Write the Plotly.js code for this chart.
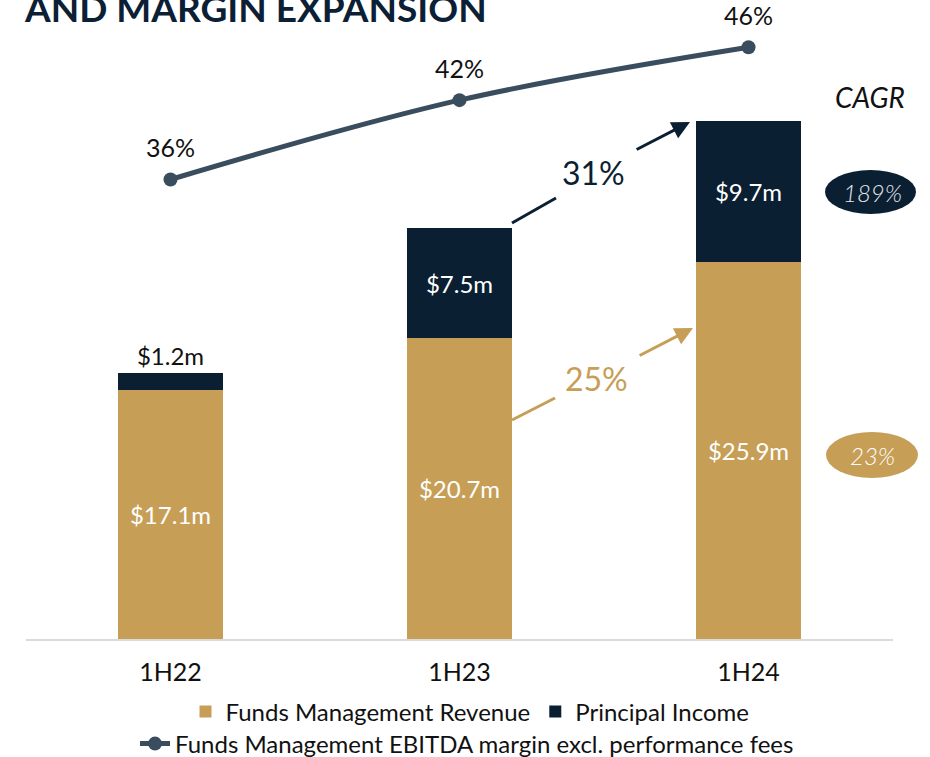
<!DOCTYPE html>
<html>
<head>
<meta charset="utf-8">
<script src="https://cdn.plot.ly/plotly-3.0.1.min.js"></script>
<style>html,body{margin:0;padding:0;background:#fff;}#chart{width:930px;height:757px;}</style>
</head>
<body>
<div id="chart"></div>
<script>
// ---- data ----
const periods = ["1H22", "1H23", "1H24"];
const fundsMgmtRevenue = [17.1, 20.7, 25.9];
const principalIncome = [1.2, 7.5, 9.7];
const ebitdaMargin = [36, 42, 46];
const fundsLabels = ["$17.1m", "$20.7m", "$25.9m"];
const principalLabels = ["$1.2m", "$7.5m", "$9.7m"];
const marginLabels = ["36%", "42%", "46%"];
const cagrPrincipal = "189%";
const cagrFunds = "23%";
const growthPrincipal = "31%";
const growthFunds = "25%";

// ---- styling ----
const TAN = "#C69E56", NAVY = "#0B1F33", SLATE = "#3A4D5E";
const FONT = "Lato, 'Open Sans', sans-serif";
const W = 930, H = 757;
const M = {l: 26, r: 37, t: 10, b: 118};
const plotW = W - M.l - M.r, plotH = H - M.t - M.b;
const YMAX = 43.2;
const Y2 = [1.24, 48.82];

// pixel helpers for decorations
const px2x = px => -0.5 + (px - M.l) / (plotW / 3);
const py2y = py => (H - M.b - py) / plotH * YMAX;
const pxp = px => (px - M.l) / plotW;
const pyp = py => (H - M.b - py) / plotH;
const cy = py => 1 - py / H;

const traces = [
  {
    type: "bar", name: "Funds Management Revenue",
    x: periods, y: fundsMgmtRevenue,
    marker: {color: TAN}, width: 0.36,
    text: fundsLabels, textposition: "inside", insidetextanchor: "middle",
    textfont: {family: FONT, size: 24, color: "#ffffff"},
    constraintext: "none", hoverinfo: "skip", legend: "legend"
  },
  {
    type: "bar", name: "Principal Income",
    x: periods, y: principalIncome,
    marker: {color: NAVY}, width: 0.36,
    text: principalLabels, textposition: ["outside", "inside", "inside"], insidetextanchor: "middle",
    textfont: {family: FONT, size: 24, color: ["#111111", "#ffffff", "#ffffff"]},
    outsidetextfont: {family: FONT, size: 24, color: "#111111"},
    cliponaxis: false, constraintext: "none", hoverinfo: "skip", legend: "legend"
  },
  {
    type: "scatter", mode: "lines+markers",
    name: "Funds Management EBITDA margin excl. performance fees",
    x: periods, y: ebitdaMargin, yaxis: "y2",
    line: {color: SLATE, width: 5, shape: "spline"},
    marker: {color: SLATE, size: 14},
    hoverinfo: "skip", legend: "legend2"
  }
];

const annotations = [
  {xref: "paper", yref: "paper", x: pxp(22), y: pyp(7), xanchor: "left", yanchor: "middle",
   text: "<b>AND MARGIN EXPANSION</b>", showarrow: false,
   font: {family: FONT, size: 37, color: "#0B2035"}},
  {xref: "paper", yref: "paper", x: pxp(870), y: pyp(97), xanchor: "center", yanchor: "middle",
   text: "<i>CAGR</i>", showarrow: false, font: {family: FONT, size: 28, color: "#111111"}},
  {xref: "paper", yref: "paper", x: pxp(872), y: pyp(192), xanchor: "center", yanchor: "middle",
   text: "<i>" + cagrPrincipal + "</i>", showarrow: false, font: {family: FONT, size: 24, color: "#E4E6E8", weight: 300}},
  {xref: "paper", yref: "paper", x: pxp(872), y: pyp(455), xanchor: "center", yanchor: "middle",
   text: "<i>" + cagrFunds + "</i>", showarrow: false, font: {family: FONT, size: 24, color: "#ffffff", weight: 300}},
  {xref: "x", yref: "y", x: px2x(690), y: py2y(122), axref: "x", ayref: "y", ax: px2x(593), ay: py2y(172),
   text: growthPrincipal, showarrow: true, arrowhead: 2, arrowsize: 1.2, arrowwidth: 3, arrowcolor: NAVY,
   startstandoff: 12, font: {family: FONT, size: 32, color: NAVY}},
  {xref: "x", yref: "y", x: px2x(693), y: py2y(328), axref: "x", ayref: "y", ax: px2x(596), ay: py2y(378),
   text: growthFunds, showarrow: true, arrowhead: 2, arrowsize: 1.2, arrowwidth: 3, arrowcolor: TAN,
   startstandoff: 12, font: {family: FONT, size: 32, color: TAN}}
];
periods.forEach((p, i) => {
  annotations.push({xref: "x", yref: "y2", x: p, y: ebitdaMargin[i], yshift: 32,
    text: marginLabels[i], showarrow: false, font: {family: FONT, size: 25, color: "#111111"}});
});

const shapes = [
  {type: "circle", xref: "paper", yref: "paper", x0: pxp(825), x1: pxp(916), y0: pyp(170), y1: pyp(214),
   fillcolor: NAVY, line: {width: 0}, layer: "below"},
  {type: "circle", xref: "paper", yref: "paper", x0: pxp(826), x1: pxp(918), y0: pyp(432), y1: pyp(478),
   fillcolor: TAN, line: {width: 0}, layer: "below"},
  {type: "line", xref: "x", yref: "y", x0: px2x(512), y0: py2y(223), x1: px2x(556), y1: py2y(198),
   line: {color: NAVY, width: 3}},
  {type: "line", xref: "x", yref: "y", x0: px2x(512), y0: py2y(420), x1: px2x(555), y1: py2y(398),
   line: {color: TAN, width: 3}}
];

const layout = {
  width: W, height: H, margin: M,
  paper_bgcolor: "#ffffff", plot_bgcolor: "#ffffff",
  barmode: "stack", showlegend: true,
  font: {family: FONT, color: "#111111"},
  xaxis: {type: "category", range: [-0.5, 2.5], showline: true, linecolor: "#DADADA", linewidth: 2,
          ticks: "", showgrid: false, zeroline: false, fixedrange: true, ticklabelstandoff: 10,
          tickfont: {family: FONT, size: 25, color: "#111111"}},
  yaxis: {range: [0, YMAX], visible: false, fixedrange: true},
  yaxis2: {range: Y2, overlaying: "y", visible: false, fixedrange: true},
  legend: {orientation: "h", xref: "container", yref: "container", x: 470 / W, xanchor: "center",
           y: cy(712), yanchor: "middle",
           font: {family: FONT, size: 24, color: "#111111"}, traceorder: "normal", bgcolor: "rgba(0,0,0,0)"},
  legend2: {orientation: "h", xref: "container", yref: "container", x: 467 / W, xanchor: "center",
           y: cy(744), yanchor: "middle",
           font: {family: FONT, size: 24, color: "#111111"}, bgcolor: "rgba(0,0,0,0)"},
  annotations: annotations, shapes: shapes
};

Plotly.newPlot("chart", traces, layout, {displayModeBar: false, staticPlot: true});
</script>
</body>
</html>
